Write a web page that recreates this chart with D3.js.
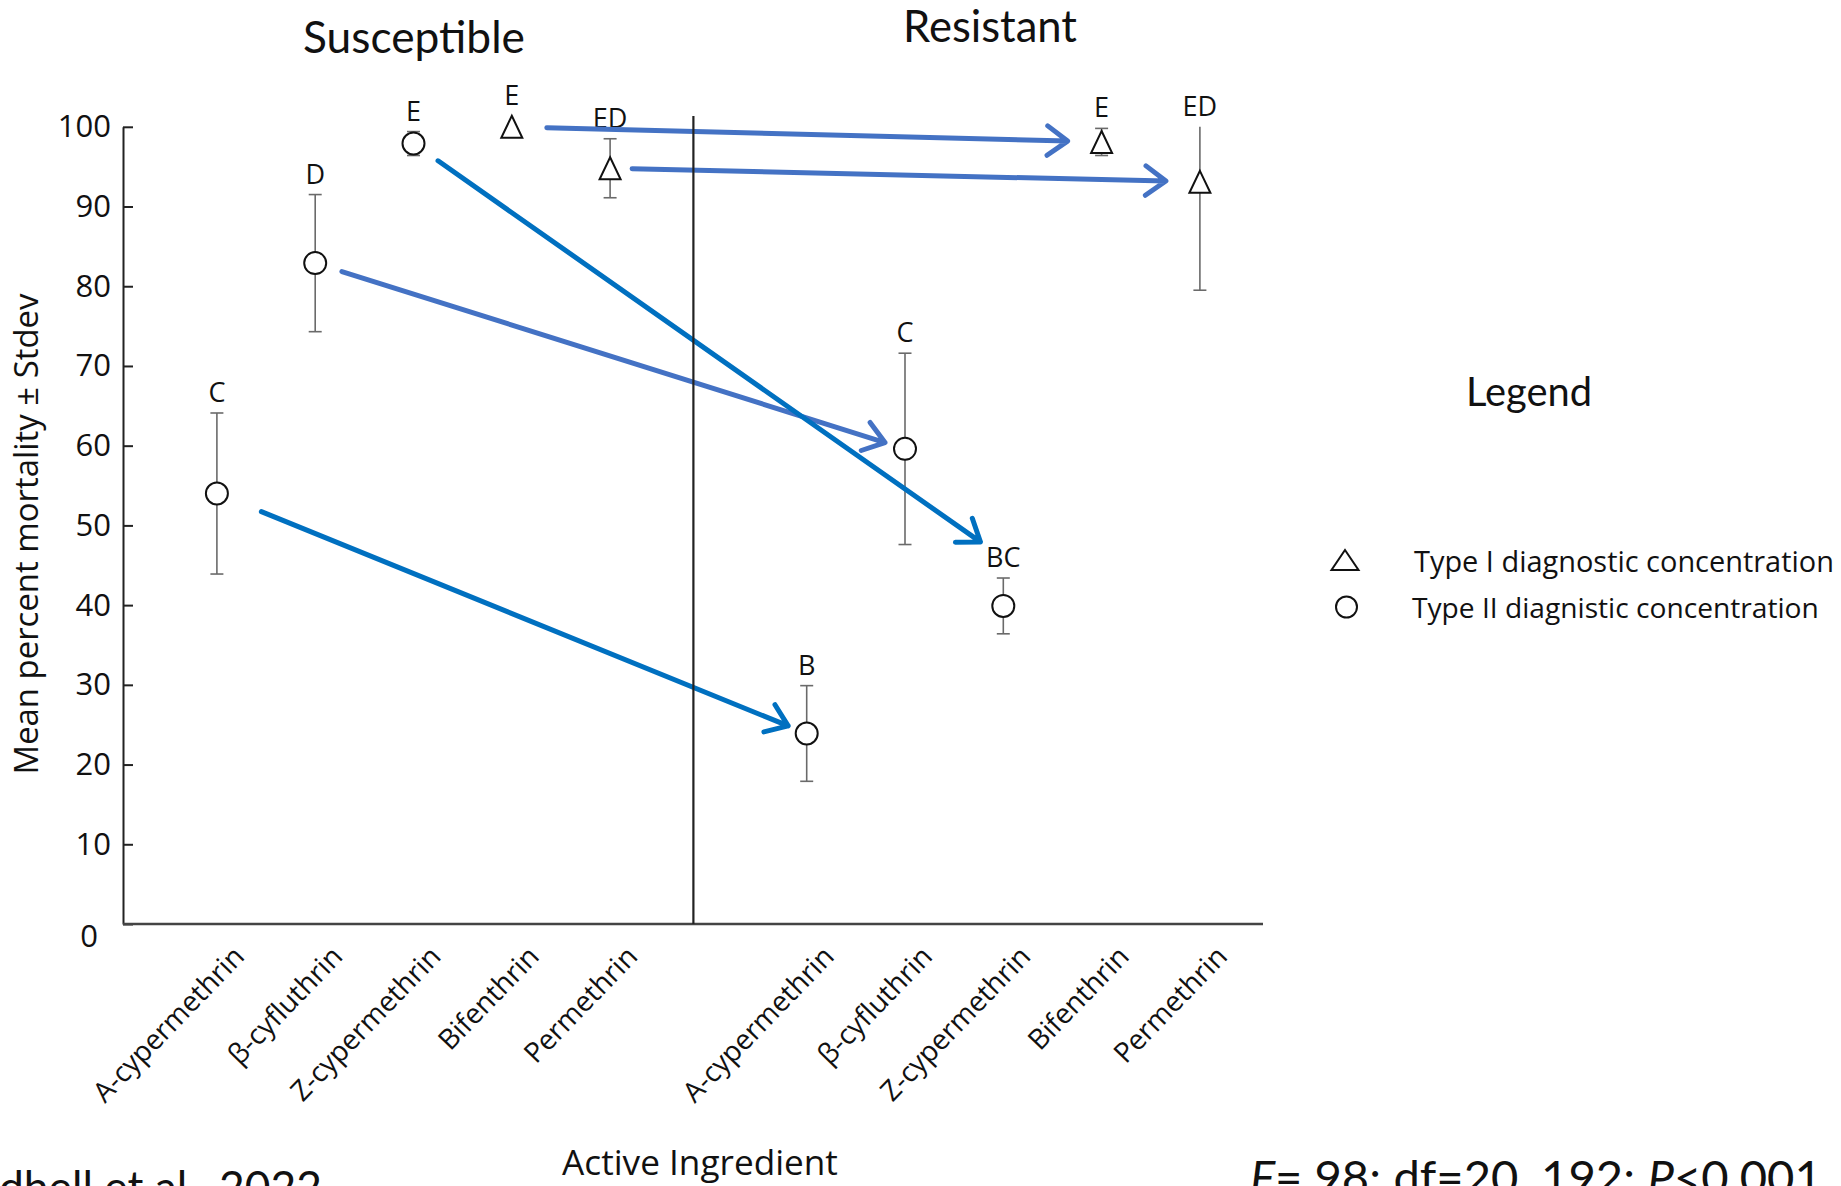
<!DOCTYPE html>
<html>
<head>
<meta charset="utf-8">
<script src="https://cdn.jsdelivr.net/npm/d3@7"></script>
<style>
  html, body { margin: 0; padding: 0; background: #ffffff; }
  svg { display: block; }
</style>
</head>
<body>
<svg id="chart" width="1841" height="1186"></svg>
<script>
// ---- data -------------------------------------------------------------
const ingredients = ["A-cypermethrin", "β-cyfluthrin", "Z-cypermethrin", "Bifenthrin", "Permethrin"];
const strains = ["Susceptible", "Resistant"];
// Type I concentrations are drawn as triangles, Type II as circles
const concentrationType = ["II", "II", "II", "I", "I"];

const susceptibleMean    = [54.0, 82.9, 97.9, 100.0, 94.8];
const susceptibleSd      = [10.1, 8.6, 1.5, 0.0, 3.7];
const susceptibleLetters = ["C", "D", "E", "E", "ED"];

const resistantMean    = [23.9, 59.6, 39.9, 98.1, 93.1];
const resistantSd      = [6.0, 12.0, 3.5, 1.7, 13.6];
const resistantLetters = ["B", "C", "BC", "E", "ED"];

const yTicks = [0, 10, 20, 30, 40, 50, 60, 70, 80, 90, 100];
const legendLabels = ["Type I diagnostic concentration", "Type II diagnistic concentration"];
// each arrow runs from the susceptible mean to the resistant mean (or its letter)
const arrowTargets = ["point", "point", "label", "point", "point"];

// ---- setup ------------------------------------------------------------
const svg = d3.select("#chart");
const FIG_FONT = "'Open Sans', 'Noto Sans', sans-serif";
const SLIDE_FONT = "Lato, 'Open Sans', sans-serif";

const keys = [
  ...ingredients.map(d => "S:" + d),
  "gap",
  ...ingredients.map(d => "R:" + d)
];

const x = d3.scalePoint().domain(keys).range([216.9, 1199.9]);
const y = d3.scaleLinear().domain([0, 100]).range([924, 126.8]);

const records = [];
ingredients.forEach((name, i) => {
  records.push({ key: "S:" + name, name, mean: susceptibleMean[i], sd: susceptibleSd[i],
                 letter: susceptibleLetters[i], type: concentrationType[i] });
});
ingredients.forEach((name, i) => {
  records.push({ key: "R:" + name, name, mean: resistantMean[i], sd: resistantSd[i],
                 letter: resistantLetters[i], type: concentrationType[i] });
});

// shrink/grow a text so it spans a given width
function fitText(sel, width) {
  const len = sel.node().getComputedTextLength();
  const fs = parseFloat(sel.attr("font-size"));
  sel.attr("font-size", (fs * width / len).toFixed(2));
  return sel;
}

const MARK_HALF = 11;

// ---- axes -------------------------------------------------------------
const yAxis = d3.axisLeft(y)
  .tickValues(yTicks)
  .tickFormat(d3.format("d"))
  .tickSizeInner(-10)
  .tickSizeOuter(0)
  .tickPadding(12);

const yAxisG = svg.append("g")
  .attr("transform", "translate(123,0)")
  .call(yAxis);
yAxisG.select(".domain").attr("stroke", "#222").attr("stroke-width", 2);
yAxisG.selectAll(".tick line").attr("stroke", "#222").attr("stroke-width", 2);
yAxisG.selectAll(".tick text")
  .attr("font-family", FIG_FONT)
  .attr("font-size", 31)
  .attr("fill", "#111");
yAxisG.selectAll(".tick").filter(d => d === 0).select("text")
  .attr("transform", "translate(-13,13)");

// baseline of the plot
svg.append("line")
  .attr("x1", 123).attr("x2", 1263)
  .attr("y1", y(0)).attr("y2", y(0))
  .attr("stroke", "#444").attr("stroke-width", 2.5);

// category labels
const xLabels = svg.append("g");
xLabels.selectAll("text")
  .data(records)
  .join("text")
  .attr("transform", d => `translate(${x(d.key) + 29},${y(0) + 34}) rotate(-46)`)
  .attr("text-anchor", "end")
  .attr("font-family", FIG_FONT)
  .attr("font-size", 28)
  .attr("fill", "#111")
  .text(d => d.name);

// y axis title
const yTitle = svg.append("text")
  .attr("transform", "translate(38,534) rotate(-90)")
  .attr("text-anchor", "middle")
  .attr("font-family", FIG_FONT)
  .attr("font-size", 30)
  .attr("fill", "#111")
  .text("Mean percent mortality ± Stdev");
fitText(yTitle, 481);

// x axis title
const xTitle = svg.append("text")
  .attr("x", 700).attr("y", 1175)
  .attr("text-anchor", "middle")
  .attr("font-family", FIG_FONT)
  .attr("font-size", 30)
  .attr("fill", "#111")
  .text("Active Ingredient");
fitText(xTitle, 276);

// ---- error bars -------------------------------------------------------
const bars = svg.append("g")
  .selectAll("g")
  .data(records.filter(d => d.sd > 0))
  .join("g")
  .attr("stroke", "#6a6a6a")
  .attr("stroke-width", 1.6);

bars.append("line")
  .attr("x1", d => x(d.key)).attr("x2", d => x(d.key))
  .attr("y1", d => y(Math.max(0, d.mean - d.sd)))
  .attr("y2", d => y(Math.min(100, d.mean + d.sd)));
bars.append("line")
  .attr("x1", d => x(d.key) - 6.5).attr("x2", d => x(d.key) + 6.5)
  .attr("y1", d => y(Math.max(0, d.mean - d.sd)))
  .attr("y2", d => y(Math.max(0, d.mean - d.sd)));
bars.filter(d => d.mean + d.sd <= 100).append("line")
  .attr("x1", d => x(d.key) - 6.5).attr("x2", d => x(d.key) + 6.5)
  .attr("y1", d => y(d.mean + d.sd))
  .attr("y2", d => y(d.mean + d.sd));

// ---- markers ----------------------------------------------------------
function trianglePath(cx, cy, w, h) {
  return `M${cx},${cy - h / 2}L${cx + w / 2},${cy + h / 2}L${cx - w / 2},${cy + h / 2}Z`;
}

const marks = svg.append("g");
marks.selectAll("circle")
  .data(records.filter(d => d.type === "II"))
  .join("circle")
  .attr("cx", d => x(d.key))
  .attr("cy", d => y(d.mean))
  .attr("r", 11)
  .attr("fill", "#fff")
  .attr("stroke", "#111")
  .attr("stroke-width", 2);
marks.selectAll("path")
  .data(records.filter(d => d.type === "I"))
  .join("path")
  .attr("d", d => trianglePath(x(d.key), y(d.mean), 21, 22))
  .attr("fill", "#fff")
  .attr("stroke", "#111")
  .attr("stroke-width", 2)
  .attr("stroke-linejoin", "miter");

// ---- significance letters ---------------------------------------------
function letterBaseline(d) {
  const top = Math.min(y(Math.min(100, d.mean + d.sd)), y(d.mean) - MARK_HALF);
  return top - 11;
}
svg.append("g")
  .selectAll("text")
  .data(records)
  .join("text")
  .attr("x", d => x(d.key))
  .attr("y", d => letterBaseline(d))
  .attr("text-anchor", "middle")
  .attr("font-family", FIG_FONT)
  .attr("font-size", 27)
  .attr("fill", "#111")
  .text(d => d.letter);

// ---- arrows from susceptible to resistant -----------------------------
const arrowStyle = [
  { color: "#0070C0", startGap: 48, endGap: 20 },
  { color: "#4472C4", startGap: 28, endGap: 21 },
  { color: "#0070C0", startGap: 30, endGap: 28 },
  { color: "#4472C4", startGap: 35, endGap: 34 },
  { color: "#4472C4", startGap: 22, endGap: 34 }
];

const arrows = svg.append("g")
  .attr("fill", "none")
  .attr("stroke-width", 5)
  .attr("stroke-linecap", "round")
  .attr("stroke-linejoin", "round");

ingredients.forEach((name, i) => {
  const from = records.find(r => r.key === "S:" + name);
  const to = records.find(r => r.key === "R:" + name);
  const x0 = x(from.key), y0 = y(from.mean);
  const x1 = x(to.key);
  const y1 = arrowTargets[i] === "label" ? letterBaseline(to) - 9 : y(to.mean);
  const dx = x1 - x0, dy = y1 - y0, len = Math.hypot(dx, dy);
  const ux = dx / len, uy = dy / len;
  const st = arrowStyle[i];
  const sx = x0 + ux * st.startGap, sy = y0 + uy * st.startGap;
  const ex = x1 - ux * st.endGap, ey = y1 - uy * st.endGap;
  const arm = 25, ang = 36 * Math.PI / 180;
  const cosA = Math.cos(ang), sinA = Math.sin(ang);
  const ax1 = ex - arm * (ux * cosA - uy * sinA), ay1 = ey - arm * (uy * cosA + ux * sinA);
  const ax2 = ex - arm * (ux * cosA + uy * sinA), ay2 = ey - arm * (uy * cosA - ux * sinA);
  arrows.append("path")
    .attr("stroke", st.color)
    .attr("d", `M${sx},${sy}L${ex},${ey}M${ax1},${ay1}L${ex},${ey}L${ax2},${ay2}`);
});

// divider between the two strains
svg.append("line")
  .attr("x1", (x(keys[4]) + x(keys[6])) / 2 - 15)
  .attr("x2", (x(keys[4]) + x(keys[6])) / 2 - 15)
  .attr("y1", 116).attr("y2", y(0))
  .attr("stroke", "#222").attr("stroke-width", 2.2);

// ---- strain headings --------------------------------------------------
const headPos = [{ x: 414, y: 53, w: 222 }, { x: 990, y: 42, w: 174 }];
strains.forEach((s, i) => {
  const t = svg.append("text")
    .attr("x", headPos[i].x).attr("y", headPos[i].y)
    .attr("text-anchor", "middle")
    .attr("font-family", SLIDE_FONT)
    .attr("font-size", 40)
    .attr("fill", "#111")
    .text(s);
  fitText(t, headPos[i].w);
});

// ---- legend -----------------------------------------------------------
const legTitle = svg.append("text")
  .attr("x", 1529).attr("y", 406)
  .attr("text-anchor", "middle")
  .attr("font-family", SLIDE_FONT)
  .attr("font-size", 36)
  .attr("fill", "#111")
  .text("Legend");
fitText(legTitle, 126);

svg.append("path")
  .attr("d", trianglePath(1345, 560, 27, 20))
  .attr("fill", "#fff").attr("stroke", "#111").attr("stroke-width", 2);
svg.append("circle")
  .attr("cx", 1346.5).attr("cy", 607).attr("r", 10.5)
  .attr("fill", "#fff").attr("stroke", "#111").attr("stroke-width", 2);

const legRows = [{ x: 1414, y: 572, w: 420 }, { x: 1412, y: 618, w: 407 }];
legendLabels.forEach((label, i) => {
  const t = svg.append("text")
    .attr("x", legRows[i].x).attr("y", legRows[i].y)
    .attr("font-family", FIG_FONT)
    .attr("font-size", 28)
    .attr("fill", "#111")
    .text(label);
  fitText(t, legRows[i].w);
});

// ---- footer -----------------------------------------------------------
const cite = svg.append("text")
  .attr("x", -1).attr("y", 1200)
  .attr("font-family", SLIDE_FONT)
  .attr("font-size", 38)
  .attr("fill", "#111")
  .text("dhell et al., 2022");
fitText(cite, 323);
cite.attr("y", 1171 + 0.72 * parseFloat(cite.attr("font-size")));

const stats = svg.append("text")
  .attr("x", 1250).attr("y", 1200)
  .attr("font-family", SLIDE_FONT)
  .attr("font-size", 42)
  .attr("fill", "#111");
stats.append("tspan").attr("font-style", "italic").text("F");
stats.append("tspan").text("= 98; df=20, 192; ");
stats.append("tspan").attr("font-style", "italic").text("P");
stats.append("tspan").text("<0.001");
fitText(stats, 572);
stats.attr("y", 1160 + 0.72 * parseFloat(stats.attr("font-size")));
</script>
</body>
</html>
